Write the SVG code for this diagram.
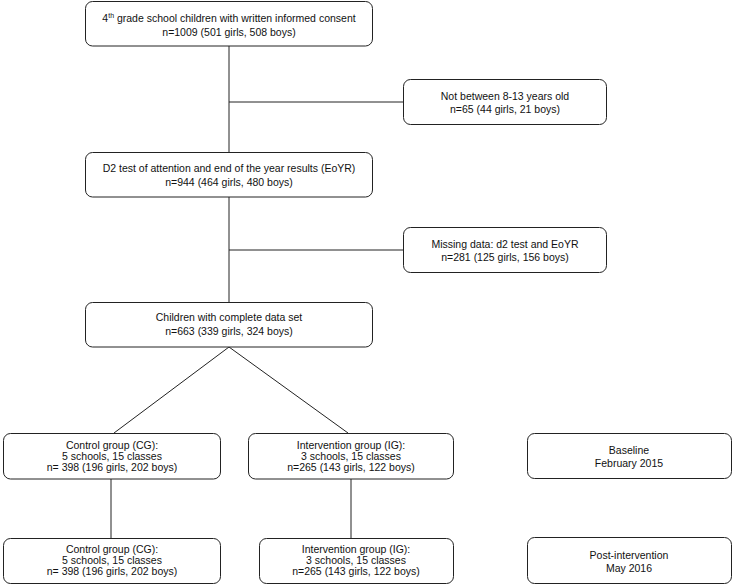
<svg xmlns="http://www.w3.org/2000/svg" width="733" height="585" viewBox="0 0 733 585">
<style>
.box{fill:#fff;stroke:#222;stroke-width:1}
.t{font-family:"Liberation Sans",Arial,sans-serif;font-size:10.5px;fill:#111;text-anchor:middle}
.ln{stroke:#222;stroke-width:1;fill:none}
</style>
<rect width="733" height="585" fill="#fff"/>
<g id="connectors">
<line class="ln" x1="229" y1="46" x2="229" y2="152"/>
<line class="ln" x1="229" y1="102" x2="403" y2="102"/>
<line class="ln" x1="229" y1="197" x2="229" y2="302"/>
<line class="ln" x1="229" y1="250" x2="403" y2="250"/>
<line class="ln" x1="229" y1="347" x2="114" y2="433"/>
<line class="ln" x1="229" y1="347" x2="348" y2="433"/>
<line class="ln" x1="111" y1="479" x2="111" y2="538"/>
<line class="ln" x1="351" y1="479" x2="351" y2="538"/>
</g>
<g id="n1"><rect class="box" x="85.5" y="1.5" width="287" height="44.5" rx="7"/>
<text class="t" x="229" y="21.5">4<tspan font-size="7" dy="-3.5">th</tspan><tspan dy="3.5"> grade school children with written informed consent</tspan></text>
<text class="t" x="229" y="35.5">n=1009 (501 girls, 508 boys)</text></g>
<g id="n2"><rect class="box" x="403.5" y="79.5" width="203" height="45" rx="7"/>
<text class="t" x="505" y="99.5">Not between 8-13 years old</text>
<text class="t" x="505" y="112.5">n=65 (44 girls, 21 boys)</text></g>
<g id="n3"><rect class="box" x="85.5" y="152.5" width="287" height="44.5" rx="7"/>
<text class="t" x="229" y="171.5">D2 test of attention and end of the year results (EoYR)</text>
<text class="t" x="229" y="185.5">n=944 (464 girls, 480 boys)</text></g>
<g id="n4"><rect class="box" x="403.5" y="227.5" width="203" height="45" rx="7"/>
<text class="t" x="505" y="247.5">Missing data: d2 test and EoYR</text>
<text class="t" x="505" y="260.5">n=281 (125 girls, 156 boys)</text></g>
<g id="n5"><rect class="box" x="85.5" y="302.5" width="287" height="44.5" rx="7"/>
<text class="t" x="229" y="320.5">Children with complete data set</text>
<text class="t" x="229" y="334.5">n=663 (339 girls, 324 boys)</text></g>
<g id="n6"><rect class="box" x="3.5" y="433.5" width="217" height="45.5" rx="7"/>
<text class="t" x="112" y="449">Control group (CG):</text>
<text class="t" x="112" y="460">5 schools, 15 classes</text>
<text class="t" x="112" y="471">n= 398 (196 girls, 202 boys)</text></g>
<g id="n7"><rect class="box" x="248.5" y="433.5" width="205" height="45.5" rx="7"/>
<text class="t" x="351" y="449">Intervention group (IG):</text>
<text class="t" x="351" y="460">3 schools, 15 classes</text>
<text class="t" x="351" y="471">n=265 (143 girls, 122 boys)</text></g>
<g id="n8"><rect class="box" x="527.5" y="433.5" width="204" height="45" rx="7"/>
<text class="t" x="629" y="454">Baseline</text>
<text class="t" x="629" y="467">February 2015</text></g>
<g id="n9"><rect class="box" x="3.5" y="538.5" width="217" height="45" rx="7"/>
<text class="t" x="112" y="553">Control group (CG):</text>
<text class="t" x="112" y="564">5 schools, 15 classes</text>
<text class="t" x="112" y="575">n= 398 (196 girls, 202 boys)</text></g>
<g id="n10"><rect class="box" x="259.5" y="538.5" width="194" height="45" rx="7"/>
<text class="t" x="356" y="553">Intervention group (IG):</text>
<text class="t" x="356" y="564">3 schools, 15 classes</text>
<text class="t" x="356" y="575">n=265 (143 girls, 122 boys)</text></g>
<g id="n11"><rect class="box" x="527.5" y="537.5" width="204" height="46" rx="7"/>
<text class="t" x="629" y="558.5">Post-intervention</text>
<text class="t" x="629" y="571.5">May 2016</text></g>
</svg>
